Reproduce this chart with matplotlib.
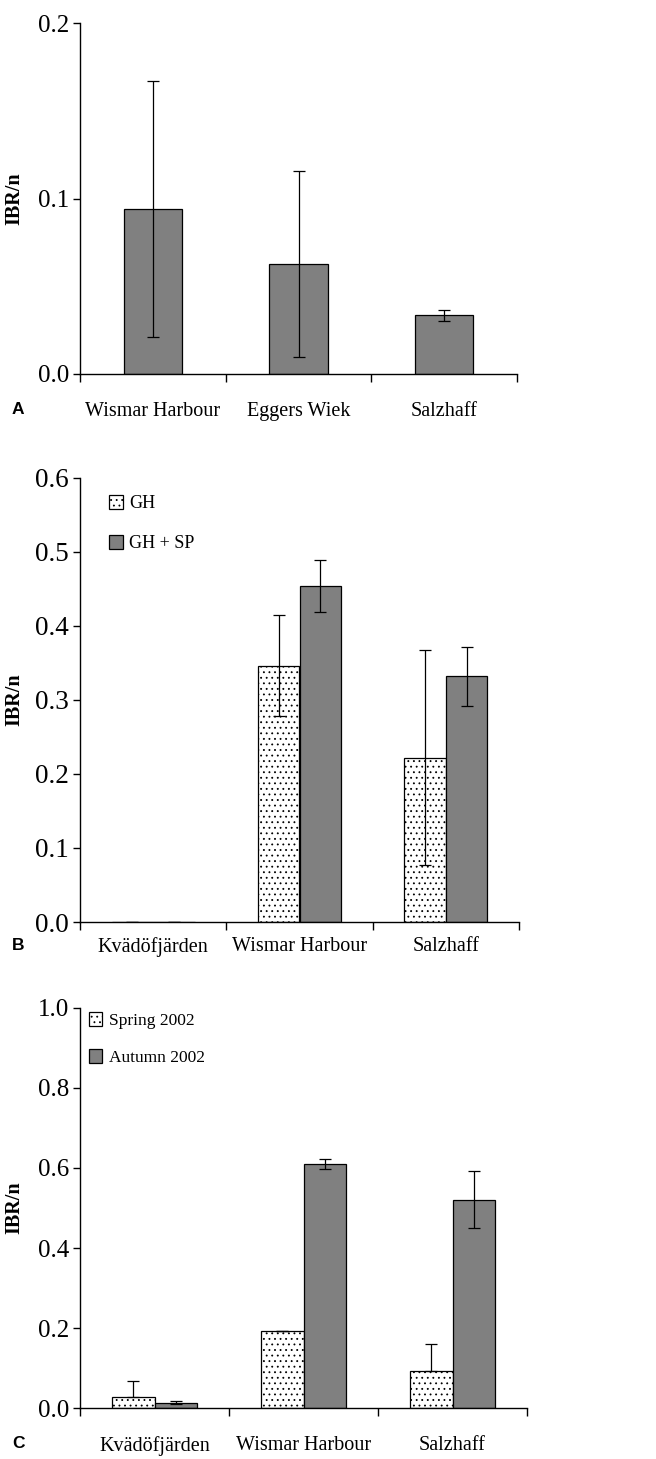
import matplotlib
matplotlib.use("Agg")
import matplotlib.pyplot as plt
import numpy as np

# --- Data ----------------------------------------------------------------
sites_a = ["Wismar Harbour", "Eggers Wiek", "Salzhaff"]
ibr_a = [0.094, 0.0625, 0.0334]
err_a = [0.073, 0.053, 0.0033]

sites_b = ["Kvädöfjärden", "Wismar Harbour", "Salzhaff"]
gh_b = [0.0, 0.346, 0.222]
gh_err_b = [0.0, 0.068, 0.145]
ghsp_b = [0.0, 0.454, 0.332]
ghsp_err_b = [0.0, 0.035, 0.040]

sites_c = ["Kvädöfjärden", "Wismar Harbour", "Salzhaff"]
spring_c = [0.027, 0.192, 0.092]
spring_err_c = [0.040, 0.0, 0.068]
autumn_c = [0.014, 0.610, 0.521]
autumn_err_c = [0.004, 0.013, 0.071]

GREY = "#808080"
SERIF = "Liberation Serif"
plt.rcParams["font.family"] = SERIF
plt.rcParams["hatch.linewidth"] = 0.6
plt.rcParams["hatch.color"] = "#555555"

W, H = 656, 1459
fig = plt.figure(figsize=(W / 100, H / 100), dpi=100)


def make_axes(left, right, top, bottom):
    return fig.add_axes([left / W, (H - bottom) / H, (right - left) / W, (bottom - top) / H])


def style(ax, sites, ymax, step, fmt, tick_size, cat_pad):
    ax.set_xlim(0, 3)
    ax.set_ylim(0, ymax)
    ax.spines[["top", "right"]].set_visible(False)
    for s in ["left", "bottom"]:
        ax.spines[s].set_linewidth(1.0)
    ticks = np.arange(0, ymax + step / 2, step)
    ax.set_yticks(ticks)
    ax.set_yticklabels([fmt.format(v) for v in ticks])
    ax.tick_params(axis="y", direction="out", length=5, width=1, labelsize=tick_size, pad=3)
    ax.set_xticks([0, 1, 2, 3])
    ax.set_xticklabels([])
    ax.tick_params(axis="x", which="major", direction="out", length=6, width=1)
    ax.set_xticks([0.5, 1.5, 2.5], minor=True)
    ax.set_xticklabels(sites, minor=True)
    ax.tick_params(axis="x", which="minor", length=0, labelsize=14.5, pad=cat_pad)
    ax.set_ylabel("IBR/n", fontsize=14.5, fontweight="bold")


ekw = dict(elinewidth=0.9, capsize=4, capthick=0.9, ecolor="black")
x = np.arange(3) + 0.5

# --- Panel A ---------------------------------------------------------------
axa = make_axes(80, 517, 23, 374)
axa.bar(x, ibr_a, width=0.4, color=GREY, edgecolor="black", linewidth=0.9,
        yerr=err_a, error_kw=ekw)
style(axa, sites_a, 0.2, 0.1, "{:.1f}", 18, 20)
axa.yaxis.set_label_coords(-0.127, 0.5)
fig.text(12 / W, 1 - 409 / H, "A", family="Liberation Sans", fontweight="bold",
         fontsize=12.5, va="center")

# --- Panel B ---------------------------------------------------------------
axb = make_axes(80, 519, 477.7, 922)
wb = 0.284
axb.bar(x - wb / 2, gh_b, width=wb, color="white", edgecolor="black", linewidth=0.9,
        hatch="...", yerr=gh_err_b, error_kw=ekw, label="GH")
axb.bar(x + wb / 2, ghsp_b, width=wb, color=GREY, edgecolor="black", linewidth=0.9,
        yerr=ghsp_err_b, error_kw=ekw, label="GH + SP")
style(axb, sites_b, 0.6, 0.1, "{:.1f}", 19.5, 11)
axb.yaxis.set_label_coords(-0.127, 0.5)
axb.legend(loc="upper left", bbox_to_anchor=(0.066, 0.962), frameon=False,
           fontsize=13, handlelength=0.75, handleheight=0.85, handletextpad=0.35,
           labelspacing=1.25, borderpad=0, borderaxespad=0)
fig.text(12 / W, 1 - 945 / H, "B", family="Liberation Sans", fontweight="bold",
         fontsize=12.5, va="center")

# --- Panel C ---------------------------------------------------------------
axc = make_axes(80, 527, 1007.7, 1408.3)
wc = 0.282
axc.bar(x - wc / 2, spring_c, width=wc, color="white", edgecolor="black", linewidth=0.9,
        hatch="...", yerr=[np.zeros(3), spring_err_c], error_kw=ekw, label="Spring 2002")
axc.bar(x + wc / 2, autumn_c, width=wc, color=GREY, edgecolor="black", linewidth=0.9,
        yerr=autumn_err_c, error_kw=ekw, label="Autumn 2002")
style(axc, sites_c, 1.0, 0.2, "{:.1f}", 18, 20)
axc.yaxis.set_label_coords(-0.124, 0.5)
axc.legend(loc="upper left", bbox_to_anchor=(0.02, 0.99), frameon=False,
           fontsize=12.5, handlelength=0.75, handleheight=0.85, handletextpad=0.4,
           labelspacing=1.2, borderpad=0, borderaxespad=0)
fig.text(12 / W, 1 - 1444 / H, "C", family="Liberation Sans", fontweight="bold",
         fontsize=12.5, va="center")

fig.savefig("out.png", dpi=100)
